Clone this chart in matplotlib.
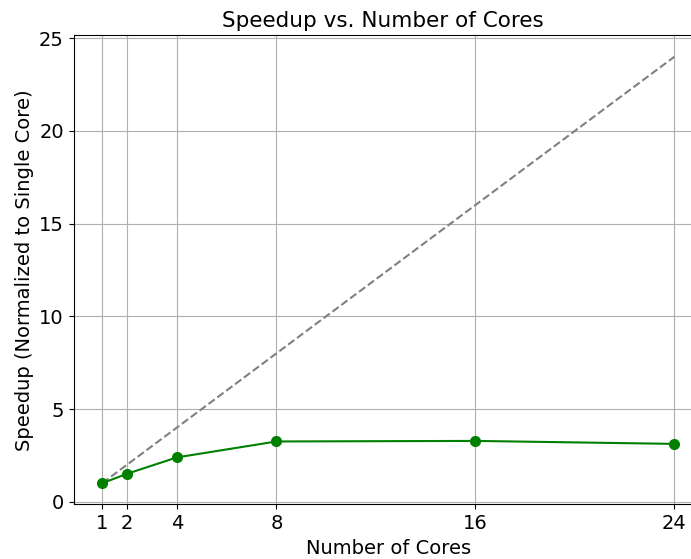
import matplotlib
matplotlib.use("Agg")
import matplotlib.pyplot as plt
import numpy as np

# measured speedup relative to a single core
cores = [1, 2, 4, 8, 16, 24]
speedup = [1.0, 1.51, 2.39, 3.25, 3.28, 3.12]
ideal = cores  # linear scaling reference

fig = plt.figure(figsize=(6.91, 5.59), dpi=100)
ax = fig.add_axes([0.1066, 0.0975, 0.9106, 0.839])

ax.plot(cores, ideal, linestyle='--', color='gray', linewidth=1.5)
ax.plot(cores, speedup, marker='o', color='green', linewidth=1.5, markersize=7)

ax.set_xticks(cores)
ax.set_yticks([0, 5, 10, 15, 20, 25])
ax.tick_params(labelsize=14)
ax.set_xlabel('Number of Cores', fontsize=14)
ax.set_ylabel('Speedup (Normalized to Single Core)', fontsize=14)
ax.set_title('Speedup vs. Number of Cores', fontsize=15.5, x=0.491)
ax.grid(True)

fig.savefig('out.png', dpi=100)
